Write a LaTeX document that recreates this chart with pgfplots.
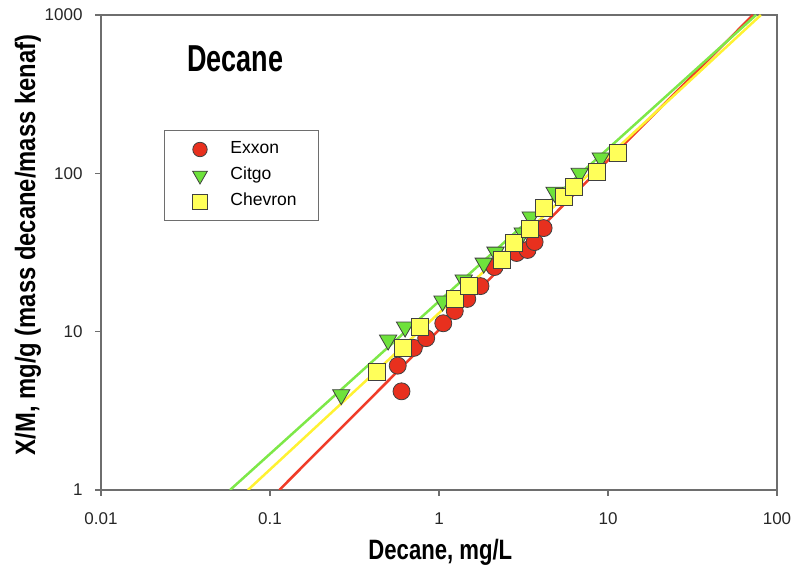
\documentclass[border=0pt]{standalone}
\usepackage{pgfplots}
\pgfplotsset{compat=1.18}
\usepackage{fontspec}
\setmainfont{Liberation Sans}
\newfontfamily\titlefont[FakeStretch=0.72]{Liberation Sans}
\newfontfamily\xlabfont[FakeStretch=0.79]{Liberation Sans}
\newfontfamily\ylabfont[FakeStretch=0.85]{Liberation Sans}
\definecolor{redfill}{RGB}{232,48,30}
\definecolor{redline}{RGB}{240,60,40}
\definecolor{greenfill}{RGB}{110,226,60}
\definecolor{greenline}{RGB}{125,232,72}
\definecolor{yellowfill}{RGB}{255,255,90}
\definecolor{yellowline}{RGB}{255,242,50}
\definecolor{axisgray}{RGB}{110,110,110}

\pgfplotstableread{
x y
0.60 4.2
0.57 6.1
0.71 7.9
0.84 9.1
1.06 11.3
1.24 13.5
1.47 16.1
1.76 19.4
2.13 25.6
2.88 31.4
3.34 32.8
3.68 36.8
4.16 45.1
}\exxon
\pgfplotstableread{
x y
0.264 4.0
0.50 8.85
0.63 10.7
1.05 15.6
1.40 21.2
1.84 27.1
2.16 31.8
3.13 42.0
3.49 53
4.83 76
6.8 100
9.06 125
}\citgo
\pgfplotstableread{
x y
0.43 5.56
0.61 7.9
0.77 10.7
1.25 16.1
1.50 19.4
2.35 28.3
2.76 36.3
3.44 44.5
4.16 60.4
5.47 70.8
6.27 81.9
8.58 102
11.4 134
}\chevron

\begin{document}
\begin{tikzpicture}
\useasboundingbox (-101pt,-77pt) rectangle (691pt,490pt);
\begin{axis}[
  at={(0pt,0pt)}, anchor=south west,
  scale only axis, width=676pt, height=475pt,
  xmode=log, ymode=log,
  xmin=0.01, xmax=100, ymin=1, ymax=1000,
  xtick={0.01,0.1,1,10,100}, xticklabels={0.01,0.1,1,10,100},
  ytick={1,10,100,1000}, yticklabels={1,10,100,1000},
  xminorticks=false, yminorticks=false,
  tick align=outside, tick pos=left, major tick length=6pt,
  axis line style={draw=axisgray, line width=1.3pt},
  every tick/.style={draw=axisgray, line width=1.3pt},
  ticklabel style={font=\fontsize{17}{17}\selectfont, text=black!85},
  xticklabel style={yshift=-13pt},
  yticklabel style={xshift=-9pt},
  xlabel={\xlabfont\bfseries Decane, mg/L},
  xlabel style={at={(axis description cs:0.502,-0.147)}, anchor=base, font=\fontsize{28}{28}\selectfont},
  ylabel={\ylabfont\bfseries X/M, mg/g (mass decane/mass kenaf)},
  ylabel style={at={(axis description cs:-0.0976,0.516)}, anchor=base, font=\fontsize{28}{28}\selectfont},
  legend cell align=left,
  legend image code/.code={\path (-35pt,0pt) (30pt,0pt); \draw[every mark/.append style={scale=0.85}] plot coordinates {(0pt,0pt)};},
  legend style={at={(rel axis cs:0.0932,0.7579)}, anchor=north west,
    draw=axisgray, line width=1pt, fill=white,
    inner xsep=0pt, inner ysep=11pt, row sep=10pt, column sep=0pt,
    font=\fontsize{17.5}{17.5}\selectfont,
    nodes={inner xsep=0pt, inner ysep=0pt, text height=12pt, text depth=4pt, text width=88pt, align=left}},
]
\addplot[redline, line width=2.5pt, forget plot] coordinates {(0.1135,1) (72.1,1000)};
\addplot[greenline, line width=2.5pt, forget plot] coordinates {(0.058,1) (75.2,1000)};
\addplot[yellowline, line width=2.5pt, forget plot] coordinates {(0.074,1) (80.3,1000)};

\addplot[only marks, mark=*, mark size=8.5pt, mark options={fill=redfill, draw=black!75, line width=0.8pt}] table {\exxon};
\addlegendentry{Exxon}
\addplot[only marks, mark=triangle*, mark size=10pt, mark options={rotate=180, fill=greenfill, draw=black!75, line width=0.8pt}] table {\citgo};
\addlegendentry{Citgo}
\addplot[only marks, mark=square*, mark size=8.5pt, mark options={fill=yellowfill, draw=black!75, line width=0.8pt}] table {\chevron};
\addlegendentry{Chevron}

\node[anchor=base west, inner sep=0pt, font=\fontsize{37.5}{37.5}\selectfont] at (rel axis cs:0.127,0.88) {\titlefont\bfseries Decane};
\end{axis}
\end{tikzpicture}
\end{document}
